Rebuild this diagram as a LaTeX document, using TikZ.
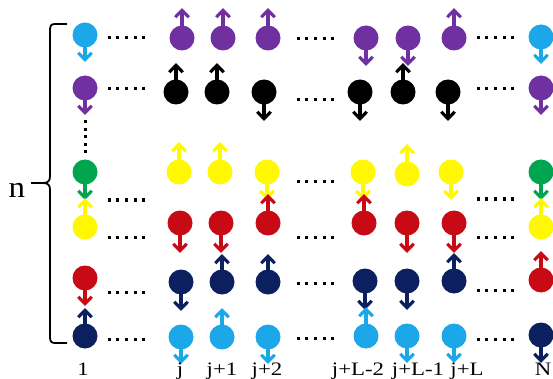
\documentclass[tikz,border=0pt]{standalone}
\usepackage{fontspec}
\setmainfont{Liberation Serif}
\usetikzlibrary{arrows.meta,calc}
\definecolor{qcyan}{HTML}{1CA8E8}
\definecolor{qpurple}{HTML}{7030A0}
\definecolor{qyellow}{HTML}{FFF800}
\definecolor{qred}{HTML}{C80A14}
\definecolor{qnavy}{HTML}{0C1F5E}
\definecolor{qgreen}{HTML}{00A550}
\definecolor{qblack}{HTML}{000000}
\tikzset{
  ball/.style={circle, inner sep=0pt, minimum size=25pt},
  spinarrow/.style={line width=3.1pt, -{Straight Barb[length=7pt,width=13.5pt]}},
  lbl/.style={anchor=base, inner sep=0pt, font=\fontsize{19}{19}\selectfont, xscale=1.2},
  dotmark/.style={fill=black}
}
% #1 name, #2 x, #3 y, #4 colour, #5 arrow length (negative = up)
\newcommand{\qspin}[5]{%
  \node[ball, fill=#4] (#1) at (#2,#3) {};
  \coordinate (#1t) at ($(#1.center)+(0,#5)$);
  \draw[spinarrow, draw=#4] (#1.center) -- (#1t);
}
\newcommand{\hdotrow}[2]{%
  \foreach \k in {0,...,4} {\fill[dotmark] (#1+8.7*\k-1.5,#2-1.5) rectangle ++(3,3);}
}
\begin{document}
\begin{tikzpicture}[x=1pt,y=-1pt]
\useasboundingbox (0,0) rectangle (553,379);
% column 1
\qspin{a1}{85}{35}{qcyan}{27}
\qspin{a2}{85}{88}{qpurple}{27}
\qspin{a3}{85}{172}{qgreen}{28}
\qspin{a4}{85}{227}{qyellow}{-29}
\qspin{a5}{85}{278}{qred}{28}
\qspin{a6}{85}{336}{qnavy}{-28}
% column N
\qspin{n1}{541}{37}{qcyan}{27}
\qspin{n2}{541}{88}{qpurple}{27}
\qspin{n3}{541}{172}{qgreen}{28}
\qspin{n4}{541}{227}{qyellow}{-29}
\qspin{n5}{541}{280}{qred}{-29}
\qspin{n6}{541}{335}{qnavy}{28}
% purple row
\qspin{p1}{182}{38}{qpurple}{-30}
\qspin{p2}{223}{38}{qpurple}{-30}
\qspin{p3}{268}{38}{qpurple}{-30}
\qspin{p4}{366}{38}{qpurple}{28}
\qspin{p5}{408}{38}{qpurple}{28}
\qspin{p6}{454}{38}{qpurple}{-30}
% black row
\qspin{b1}{176}{92}{qblack}{-29}
\qspin{b2}{217}{92}{qblack}{-29}
\qspin{b3}{264}{92}{qblack}{29}
\qspin{b4}{360}{92}{qblack}{29}
\qspin{b5}{403}{92}{qblack}{-29}
\qspin{b6}{448}{92}{qblack}{29}
% yellow row
\qspin{y1}{179}{172}{qyellow}{-30}
\qspin{y2}{220}{172}{qyellow}{-30}
\qspin{y3}{267}{172}{qyellow}{28}
\qspin{y4}{363}{172}{qyellow}{28}
\qspin{y5}{407}{174}{qyellow}{-30}
\qspin{y6}{451}{172}{qyellow}{28}
% red row
\qspin{r1}{180}{223}{qred}{30}
\qspin{r2}{221}{223}{qred}{30}
\qspin{r3}{268}{223}{qred}{-29}
\qspin{r4}{364}{223}{qred}{-29}
\qspin{r5}{407}{223}{qred}{30}
\qspin{r6}{454}{223}{qred}{30}
% navy row
\qspin{v1}{181}{282}{qnavy}{29}
\qspin{v2}{222}{282}{qnavy}{-28}
\qspin{v3}{268}{282}{qnavy}{-28}
\qspin{v4}{365}{281}{qnavy}{29}
\qspin{v5}{407}{281}{qnavy}{29}
\qspin{v6}{454}{281}{qnavy}{-28}
% cyan row
\qspin{c1}{181}{337}{qcyan}{27}
\qspin{c2}{222}{337}{qcyan}{-29}
\qspin{c3}{268}{337}{qcyan}{27}
\qspin{c4}{366}{336}{qcyan}{-29}
\qspin{c5}{407}{336}{qcyan}{27}
\qspin{c6}{454}{336}{qcyan}{27}
% horizontal dots
\foreach \yy in {38,89,200,237,292,339} {\hdotrow{109}{\yy}}
\foreach \yy in {39,100,182,237,283,338} {\hdotrow{298}{\yy}}
\foreach \yy in {38,89,199,237,290,339} {\hdotrow{478}{\yy}}
% vertical dots
\foreach \k in {0,...,4} {\fill[dotmark] (83.5,120.5+7.5*\k) rectangle ++(3,3);}
% brace
\draw[line width=1.8pt, line join=round]
  (67,24) -- (55,24) .. controls (51,24) and (50,26) .. (50,30)
  -- (50,176) .. controls (50,181) and (48,183) .. (43,183) -- (31,183)
  (43,183) .. controls (48,183) and (50,185) .. (50,190)
  -- (50,337) .. controls (50,341) and (51,343) .. (55,343) -- (67,343);
\node[inner sep=0pt, anchor=base, xscale=1.1, font=\fontsize{30}{30}\selectfont] (nlab) at (17,197) {n};
% labels
\node[lbl] (l1) at (83,375) {1};
\node[lbl] (lj) at (180,375) {j};
\node[lbl] (lj1) at (222,375) {j+1};
\node[lbl] (lj2) at (267,375) {j+2};
\node[lbl] (lL2) at (358,375) {j+L-2};
\node[lbl] (lL1) at (418,375) {j+L-1};
\node[lbl] (lL) at (467,375) {j+L};
\node[lbl] (lN) at (543,375) {N};
\end{tikzpicture}
\end{document}
